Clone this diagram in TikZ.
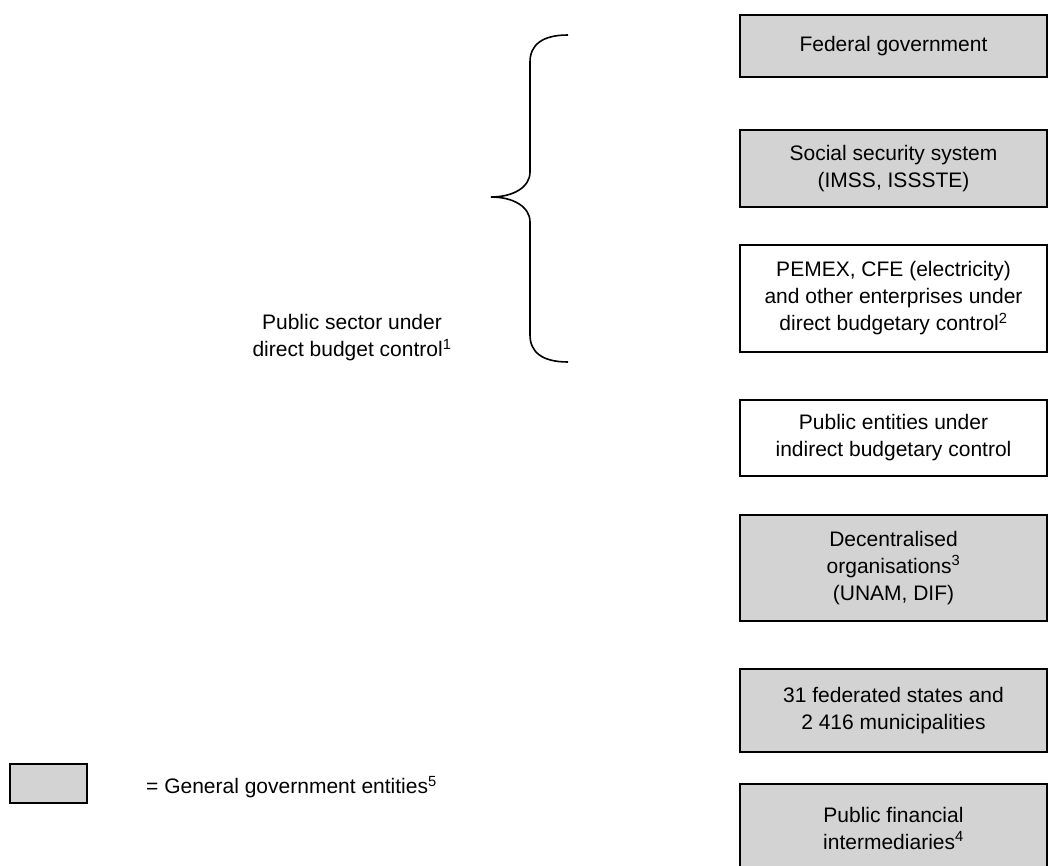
\documentclass[tikz,border=0pt]{standalone}
\usepackage{fontspec}
\setmainfont{Liberation Sans}
\usetikzlibrary{positioning}
\definecolor{govgray}{RGB}{211,211,211}
\tikzset{
	entitybox/.style={draw=black, line width=1.6pt, fill=white, minimum width=307pt, inner sep=0pt, align=center, font=\fontsize{21}{27}\selectfont},
	govbox/.style={entitybox, fill=govgray},
	plaintext/.style={inner sep=0pt, align=center, font=\fontsize{21}{27}\selectfont}
}

\begin{document}
\begin{tikzpicture}[x=1pt, y=-1pt]
		%%%%% START %%%%%
		\useasboundingbox (0, 0) rectangle (1049, 866);
		
		% entities on the right
		\node[govbox, minimum height=62pt] (federal) at (893.5, 46) {Federal government};
		\node[govbox, minimum height=77pt] (social) at (893.5, 168.5) {Social security system\\(IMSS, ISSSTE)};
		\node[entitybox, minimum height=107pt] (pemex) at (893.5, 298.5) {PEMEX, CFE (electricity)\\and other enterprises under\\direct budgetary control\textsuperscript{2}};
		\node[entitybox, minimum height=76pt] (indirect) at (893.5, 438) {Public entities under\\indirect budgetary control};
		\node[govbox, minimum height=106pt] (decentral) at (893.5, 568) {Decentralised\\organisations\textsuperscript{3}\\(UNAM, DIF)};
		\node[govbox, minimum height=83pt] (states) at (893.5, 710.5) {31 federated states and\\2 416 municipalities};
		\node[govbox, minimum height=88pt] (financial) at (893.5, 828) {Public financial\\intermediaries\textsuperscript{4}};
		
		% brace and its label
		\coordinate (bracetop) at (568, 35);
		\coordinate (bracetip) at (491, 197);
		\coordinate (bracebot) at (568, 362);
		\draw[line width=1.6pt] (bracetop) .. controls (542, 35) and (530, 45) .. (530, 62) -- (530, 172)
			.. controls (530, 188) and (512, 197) .. (bracetip)
			.. controls (512, 197) and (530, 206) .. (530, 222) -- (530, 335)
			.. controls (530, 352) and (542, 362) .. (bracebot);
		\node[plaintext] (sector) at (352, 338) {Public sector under\\direct budget control\textsuperscript{1}};
		
		% legend
		\node[govbox, minimum width=77pt, minimum height=39pt] (legendbox) at (48.5, 783.5) {};
		\node[plaintext, anchor=west] (legendtext) at (146, 787) {= General government entities\textsuperscript{5}};
		%%%%% END %%%%%
	\end{tikzpicture}
\end{document}
